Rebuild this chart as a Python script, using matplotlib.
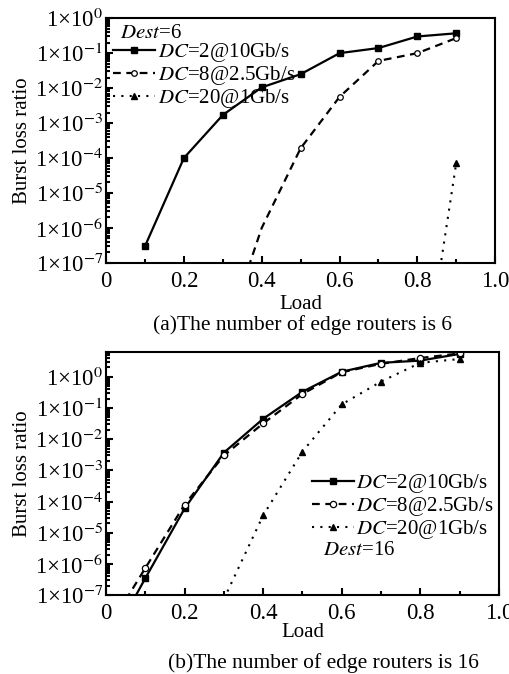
import numpy as np
import matplotlib
matplotlib.use('Agg')
from matplotlib import pyplot as plt
from matplotlib import ticker

plt.rcParams['font.family'] = ['Liberation Serif', 'DejaVu Serif']
plt.rcParams['mathtext.fontset'] = 'stix'

# x tick labels
x_ticks = [0, 0.2, 0.4, 0.6, 0.8, 1.0]
x_labels = ['0', '0.2', '0.4', '0.6', '0.8', '1.0']

# (a) 6 edge routers
a_load_dc2 = [0.1, 0.2, 0.3, 0.4, 0.5, 0.6, 0.7, 0.8, 0.9]
a_dc2 = [3e-7, 1e-4, 1.7e-3, 1.05e-2, 2.5e-2, 1e-1, 1.4e-1, 3e-1, 3.7e-1]
a_load_dc8 = [0.3, 0.4, 0.5, 0.6, 0.7, 0.8, 0.9]
a_dc8 = [5e-10, 1e-6, 1.9e-4, 5.6e-3, 6e-2, 1e-1, 2.7e-1]
a_load_dc20 = [0.8, 0.9]
a_dc20 = [4e-12, 7.4e-5]

# (b) 16 edge routers
b_load = [0.05, 0.1, 0.2, 0.3, 0.4, 0.5, 0.6, 0.7, 0.8, 0.9]
b_dc2 = [2.5e-8, 3.5e-7, 6e-5, 3.7e-3, 4.5e-2, 0.33, 1.45, 2.8, 3.3, 5.4]
b_dc8 = [7e-8, 7.4e-7, 8e-5, 3e-3, 3.2e-2, 0.28, 1.4, 2.6, 4.0, 5.6]
b_load_dc20 = [0.3, 0.4, 0.5, 0.6, 0.7, 0.8, 0.9]
b_dc20 = [7.5e-8, 3.6e-5, 4e-3, 0.13, 0.7, 2.8, 3.7]

labels = [r'$\it{DC}$=2@10Gb/s', r'$\it{DC}$=8@2.5Gb/s', r'$\it{DC}$=20@1Gb/s']


def sci(v, pos):
    return r'1×10$^{%d}$' % int(round(np.log10(v)))


def style_axes(ax, ytop):
    ax.set_yscale('log')
    ax.set_xlim(0, 1.0)
    ax.set_ylim(1e-7, ytop)
    ax.xaxis.set_major_locator(ticker.FixedLocator(x_ticks))
    ax.xaxis.set_major_formatter(ticker.FixedFormatter(x_labels))
    ax.xaxis.set_minor_locator(ticker.MultipleLocator(0.1))
    ax.yaxis.set_major_locator(ticker.FixedLocator([10.0 ** k for k in range(-7, 1)]))
    ax.yaxis.set_major_formatter(ticker.FuncFormatter(sci))
    ax.yaxis.set_minor_locator(ticker.LogLocator(subs=np.arange(2, 10), numticks=20))
    ax.yaxis.set_minor_formatter(ticker.NullFormatter())
    ax.tick_params(which='both', direction='in', top=False, right=False,
                   labelsize=16.5, width=1.5)
    ax.tick_params(which='major', length=5)
    ax.tick_params(axis='x', which='major', pad=6)
    ax.tick_params(axis='y', which='major', pad=2)
    ax.tick_params(which='minor', length=3)
    for s in ax.spines.values():
        s.set_linewidth(1.5)
    ax.set_ylabel('Burst loss ratio', fontsize=15, labelpad=2)


fig = plt.figure(figsize=(5.1, 6.74), dpi=100)

# ---- (a)
ax1 = fig.add_axes([0.208, 0.610, 0.763, 0.363])
ax1.plot(a_load_dc2, a_dc2, '-', color='k', lw=1.6, marker='s', ms=4.5,
         label=labels[0])
ax1.plot(a_load_dc8, a_dc8, color='k', lw=1.6, dashes=(3.5, 2.5), marker='o',
         ms=4, mfc='white', mew=0.9, markevery=[2, 3, 4, 5, 6], label=labels[1])
ax1.plot(a_load_dc20, a_dc20, color='k', lw=1.5, dashes=(1, 3), marker='^',
         ms=5, markevery=[1], label=labels[2])
style_axes(ax1, 1.0)
ax1.set_xlabel('Load', fontsize=15, labelpad=2)
ax1.legend(loc='upper left', bbox_to_anchor=(0.018, 0.905), frameon=False,
           fontsize=15, handlelength=2.0, handletextpad=0.15, labelspacing=0.0,
           borderaxespad=0.0, borderpad=0.0)
ax1.text(0.035, 0.975, r'$\it{Dest}$=6', transform=ax1.transAxes,
         fontsize=15, va='top', ha='left')
fig.text(0.593, 0.518, '(a)The number of edge routers is 6', fontsize=15.5,
         ha='center', va='center')

# ---- (b)
ax2 = fig.add_axes([0.208, 0.117, 0.770, 0.361])
ax2.plot(b_load, b_dc2, '-', color='k', lw=1.6, marker='s', ms=4.5,
         markevery=list(range(1, 10)), label=labels[0])
ax2.plot(b_load, b_dc8, color='k', lw=1.6, dashes=(3.5, 2.5), marker='o',
         ms=4.5, mfc='white', mew=0.9, markevery=list(range(1, 10)),
         label=labels[1])
ax2.plot(b_load_dc20, b_dc20, color='k', lw=1.5, dashes=(1, 3), marker='^',
         ms=5, markevery=list(range(1, 7)), label=labels[2])
style_axes(ax2, 10 ** 0.8)
ax2.set_xlabel('Load', fontsize=15, labelpad=-1)
ax2.legend(loc='upper left', bbox_to_anchor=(0.525, 0.505), frameon=False,
           fontsize=15, handlelength=2.0, handletextpad=0.1, labelspacing=0.0,
           borderaxespad=0.0, borderpad=0.0)
ax2.text(0.552, 0.184, r'$\it{Dest}$=16', transform=ax2.transAxes,
         fontsize=15, va='center', ha='left')
fig.text(0.634, 0.016, '(b)The number of edge routers is 16', fontsize=15.5,
         ha='center', va='center')

fig.savefig('out.png', dpi=100)
